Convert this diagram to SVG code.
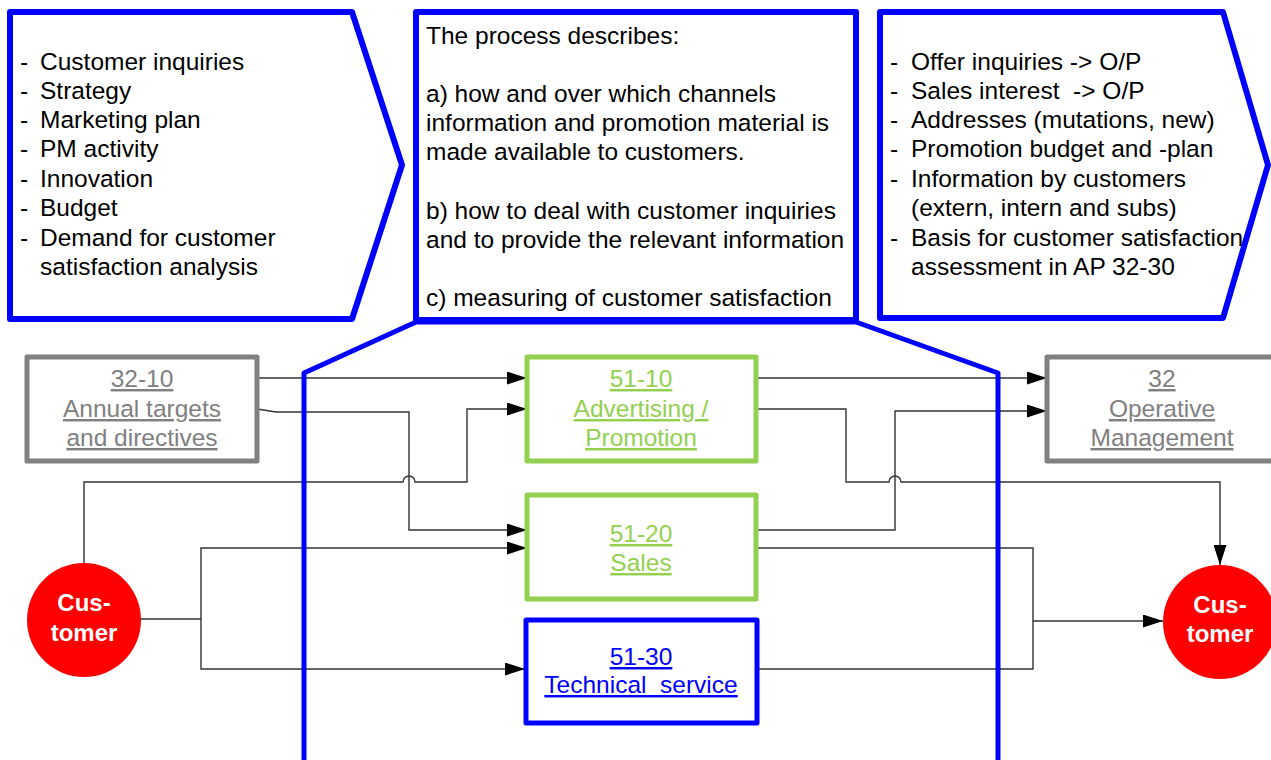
<svg xmlns="http://www.w3.org/2000/svg" width="1271" height="760" viewBox="0 0 1271 760">
<style>
text{font-family:"Liberation Sans",Arial,sans-serif;font-size:24.5px}
.blk{fill:#000}
.mid{text-anchor:middle}
.ul{text-decoration:underline}
.gray{fill:#808080}
.green{fill:#92D050}
.blue{fill:#0000FF}
.wh{fill:#fff;font-weight:bold;font-size:24px}
.bluebox{fill:#fff;stroke:#0000FF;stroke-width:6;stroke-linejoin:round}
.graybox{fill:#fff;stroke:#808080;stroke-width:5;stroke-linejoin:round}
.greenbox{fill:#fff;stroke:#92D050;stroke-width:5;stroke-linejoin:round}
.tbox{fill:#fff;stroke:#0000FF;stroke-width:5;stroke-linejoin:round}
.cust{fill:#FF0000}
.con{fill:none;stroke:#333;stroke-width:1.4}
</style>
<defs>
<marker id="ah" markerUnits="userSpaceOnUse" markerWidth="20" markerHeight="13" refX="20" refY="6.5" orient="auto">
<path d="M0,0 L20,6.5 L0,13 z" fill="#000"/>
</marker>
</defs>

<g id="input">
<polygon class="bluebox" points="10,12 352,12 402,165 352,319 10,319"/>
<text class="blk" x="20" y="70">-</text><text class="blk" x="40" y="70">Customer inquiries</text>
<text class="blk" x="20" y="99">-</text><text class="blk" x="40" y="99">Strategy</text>
<text class="blk" x="20" y="128">-</text><text class="blk" x="40" y="128">Marketing plan</text>
<text class="blk" x="20" y="157">-</text><text class="blk" x="40" y="157">PM activity</text>
<text class="blk" x="20" y="187">-</text><text class="blk" x="40" y="187">Innovation</text>
<text class="blk" x="20" y="216">-</text><text class="blk" x="40" y="216">Budget</text>
<text class="blk" x="20" y="246">-</text><text class="blk" x="40" y="246">Demand for customer</text>
<text class="blk" x="40" y="275">satisfaction analysis</text>
</g>

<g id="process">
<rect class="bluebox" x="416" y="12" width="440" height="308"/>
<text class="blk" x="426" y="44">The process describes:</text>
<text class="blk" x="426" y="102">a) how and over which channels</text>
<text class="blk" x="426" y="131">information and promotion material is</text>
<text class="blk" x="426" y="160">made available to customers.</text>
<text class="blk" x="426" y="219">b) how to deal with customer inquiries</text>
<text class="blk" x="426" y="248">and to provide the relevant information</text>
<text class="blk" x="426" y="306">c) measuring of customer satisfaction</text>
</g>

<g id="output">
<polygon class="bluebox" points="880,12 1223,12 1268,165 1223,318 880,318"/>
<text class="blk" x="890" y="70">-</text><text class="blk" x="911" y="70" style="white-space:pre">Offer inquiries -&gt; O/P</text>
<text class="blk" x="890" y="99">-</text><text class="blk" x="911" y="99" style="white-space:pre">Sales interest  -&gt; O/P</text>
<text class="blk" x="890" y="128">-</text><text class="blk" x="911" y="128">Addresses (mutations, new)</text>
<text class="blk" x="890" y="157">-</text><text class="blk" x="911" y="157">Promotion budget and -plan</text>
<text class="blk" x="890" y="187">-</text><text class="blk" x="911" y="187">Information by customers</text>
<text class="blk" x="911" y="216">(extern, intern and subs)</text>
<text class="blk" x="890" y="246">-</text><text class="blk" x="911" y="246">Basis for customer satisfaction</text>
<text class="blk" x="911" y="275">assessment in AP 32-30</text>
</g>

<g id="connectors">
<path class="con" d="M257,378 H527" marker-end="url(#ah)"/>
<path class="con" d="M257,409 L276,412 H409 V530 H527" marker-end="url(#ah)"/>
<path class="con" d="M84,563 V482 H403 A6,6 0 0 1 415,482 H467 V409 H527" marker-end="url(#ah)"/>
<path class="con" d="M140,619 H201 V548 H527" marker-end="url(#ah)"/>
<path class="con" d="M201,619 V669 H525" marker-end="url(#ah)"/>
<path class="con" d="M756,378 H1047" marker-end="url(#ah)"/>
<path class="con" d="M756,409 H846 V482 H889 A6,6 0 0 1 901,482 H1220 V565" marker-end="url(#ah)"/>
<path class="con" d="M756,530 H895 V411 H1047" marker-end="url(#ah)"/>
<path class="con" d="M756,548 H1033 V669 H757"/>
<path class="con" d="M1033,621 H1163" marker-end="url(#ah)"/>
</g>

<g id="scope">
<polyline points="304,765 304,373 416,322 856,322 998,373 998,765" fill="none" stroke="#0000FF" stroke-width="5" stroke-linejoin="round"/>
</g>

<g id="n3210">
<rect class="graybox" x="27" y="357" width="230" height="104"/>
<text class="gray mid ul" x="142" y="387">32-10</text>
<text class="gray mid ul" x="142" y="417">Annual targets</text>
<text class="gray mid ul" x="142" y="446">and directives</text>
</g>

<g id="n5110">
<rect class="greenbox" x="527" y="357" width="229" height="104"/>
<text class="green mid ul" x="641" y="387">51-10</text>
<text class="green mid ul" x="641" y="417">Advertising /</text>
<text class="green mid ul" x="641" y="446">Promotion</text>
</g>

<g id="n5120">
<rect class="greenbox" x="527" y="495" width="229" height="104"/>
<text class="green mid ul" x="641" y="542">51-20</text>
<text class="green mid ul" x="641" y="571">Sales</text>
</g>

<g id="n5130">
<rect class="tbox" x="526" y="620" width="231" height="103"/>
<text class="blue mid ul" x="641" y="665">51-30</text>
<text class="blue mid ul" x="641" y="693" style="white-space:pre">Technical  service</text>
</g>

<g id="n32">
<rect class="graybox" x="1047" y="357" width="240" height="104"/>
<text class="gray mid ul" x="1162" y="387">32</text>
<text class="gray mid ul" x="1162" y="417">Operative</text>
<text class="gray mid ul" x="1162" y="446">Management</text>
</g>

<g id="customerIn">
<circle class="cust" cx="84" cy="620" r="57"/>
<text class="wh mid" x="84" y="611">Cus-</text>
<text class="wh mid" x="84" y="641">tomer</text>
</g>

<g id="customerOut">
<circle class="cust" cx="1220" cy="622" r="57"/>
<text class="wh mid" x="1220" y="613">Cus-</text>
<text class="wh mid" x="1220" y="642">tomer</text>
</g>
</svg>
